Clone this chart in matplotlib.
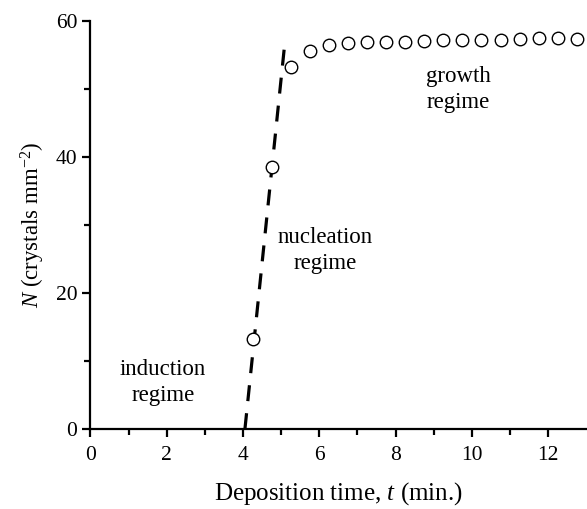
import matplotlib
matplotlib.use("Agg")
import matplotlib.pyplot as plt

plt.rcParams['font.family'] = ['Liberation Serif', 'DejaVu Serif']
plt.rcParams['mathtext.fontset'] = 'custom'
plt.rcParams['mathtext.rm'] = 'Liberation Serif'
plt.rcParams['mathtext.it'] = 'Liberation Serif:italic'

t_min = [4.25, 4.75, 5.25, 5.75, 6.25, 6.75, 7.25, 7.75, 8.25, 8.75, 9.25,
         9.75, 10.25, 10.75, 11.25, 11.75, 12.25, 12.75]
N_crystals = [13.2, 38.5, 53.2, 55.5, 56.4, 56.7, 56.9, 56.9, 56.9, 57.1, 57.2,
              57.2, 57.2, 57.2, 57.3, 57.5, 57.5, 57.4]
fit_t = [4.05, 5.1]
fit_N = [0.0, 57.0]

fig = plt.figure(figsize=(5.87, 5.09), dpi=100)
ax = fig.add_axes([0.154, 0.157, 0.845, 0.802])

ax.plot(fit_t, fit_N, color='black', lw=2.3, ls=(0, (5, 3.8)), zorder=2)
ax.plot(t_min, N_crystals, 'o', ms=9, mfc='white', mec='black', mew=1.0,
        ls='none', zorder=3)

ax.set_xlim(0, 13)
ax.set_ylim(0, 60)
ax.set_xticks(range(0, 13, 2))
ax.set_xticks(range(1, 13, 2), minor=True)
ax.set_yticks([0, 20, 40, 60])
ax.set_yticks([10, 30, 50], minor=True)
for s in ['top', 'right']:
    ax.spines[s].set_visible(False)
for s in ['left', 'bottom']:
    ax.spines[s].set_linewidth(1.6)
ax.tick_params(which='major', direction='out', length=6, width=1.6,
               labelsize=15.5, colors='black')
ax.tick_params(axis='x', which='major', pad=6)
ax.tick_params(which='minor', direction='out', length=4, width=1.6)

ax.set_xlabel('Deposition time, $\\it{t}$ (min.)', fontsize=18, labelpad=11)
ax.set_ylabel('$\\it{N}$ (crystals mm$^{-2}$)', fontsize=16.5, labelpad=6)

ax.text(1.9, 6.9, 'induction\nregime', ha='center', va='center', fontsize=16.5,
        linespacing=1.3)
ax.text(6.15, 26.3, 'nucleation\nregime', ha='center', va='center', fontsize=16.5,
        linespacing=1.3)
ax.text(9.65, 49.9, 'growth\nregime', ha='center', va='center', fontsize=16.5,
        linespacing=1.3)

fig.savefig('out.png', dpi=100)
